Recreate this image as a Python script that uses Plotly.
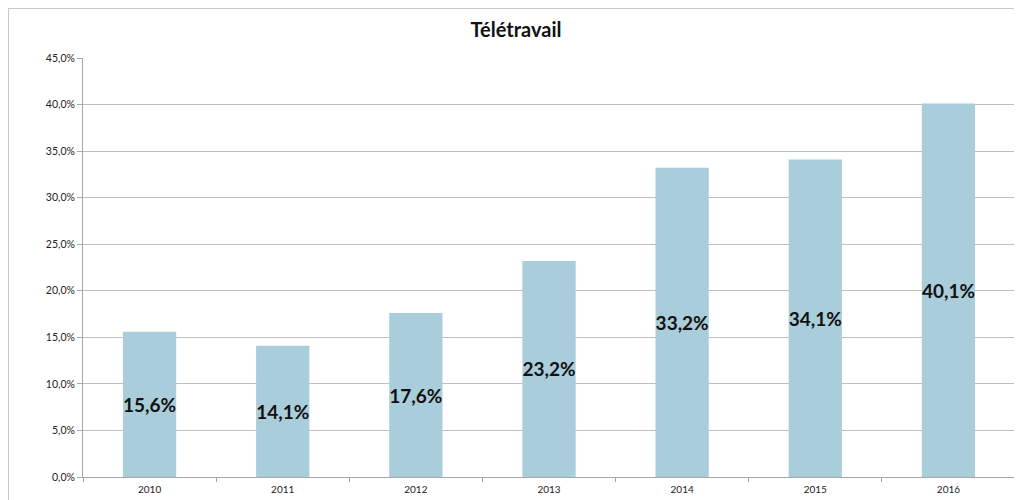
import plotly.graph_objects as go

years = ["2010", "2011", "2012", "2013", "2014", "2015", "2016"]
values = [15.6, 14.1, 17.6, 23.2, 33.2, 34.1, 40.1]
y_ticks = [0, 5, 10, 15, 20, 25, 30, 35, 40, 45]
y_tick_labels = ["0,0%", "5,0%", "10,0%", "15,0%", "20,0%", "25,0%", "30,0%", "35,0%", "40,0%", "45,0%"]
bar_labels = [f"{v:.1f}%".replace(".", ",") for v in values]

# the page body has an 8px default margin, so the figure is laid out 8px smaller
W, H = 1014, 492
L, R, T, B = 75, 7, 50, 23

FONT = "Lato, Open Sans, sans-serif"

fig = go.Figure(go.Bar(
    x=years, y=values,
    marker=dict(color="#A9CDDA", line=dict(width=0)),
    text=bar_labels, textposition="inside", insidetextanchor="middle",
    textangle=0,
    textfont=dict(family=FONT, size=19, color="#111111"),
    texttemplate="<b>%{text}</b>",
    constraintext="none",
    cliponaxis=False,
    hoverinfo="skip",
))

pw = W - L - R
ph = H - T - B
x0 = (0 - L) / pw
x1 = (W + 10 - L) / pw
y1 = 1 + (T + 0) / ph
y0 = -(B + 10) / ph

fig.update_layout(
    width=W, height=H,
    margin=dict(l=L, r=R, t=T, b=B, autoexpand=False),
    paper_bgcolor="white", plot_bgcolor="white",
    bargap=0.6,
    showlegend=False,
    title=dict(text="<b>Télétravail</b>", x=508 / W, xref="container", xanchor="center",
               y=1 - 22 / H, yref="container", yanchor="middle",
               font=dict(family=FONT, size=20, color="#111111")),
    xaxis=dict(
        showgrid=False, showline=True, linecolor="#A6A6A6", linewidth=1,
        ticks="outside", tickson="boundaries", ticklen=4, tickcolor="#A6A6A6",
        tickfont=dict(family=FONT, size=10, color="#222222"),
        ticklabelstandoff=3, automargin=False,
        fixedrange=True,
    ),
    yaxis=dict(
        range=[0, 45], tickvals=y_ticks, ticktext=y_tick_labels,
        showgrid=True, gridcolor="#BFBFBF", gridwidth=1,
        showline=True, linecolor="#A6A6A6", linewidth=1,
        ticks="outside", ticklen=5, tickcolor="#A6A6A6",
        tickfont=dict(family=FONT, size=10.5, color="#222222"),
        automargin=False,
        zeroline=False, fixedrange=True,
    ),
    shapes=[dict(type="rect", xref="paper", yref="paper", x0=x0, x1=x1, y0=y0, y1=y1,
                 line=dict(color="#C8C8C8", width=2), fillcolor="rgba(0,0,0,0)", layer="below")],
)

fig.write_html("out.html")
